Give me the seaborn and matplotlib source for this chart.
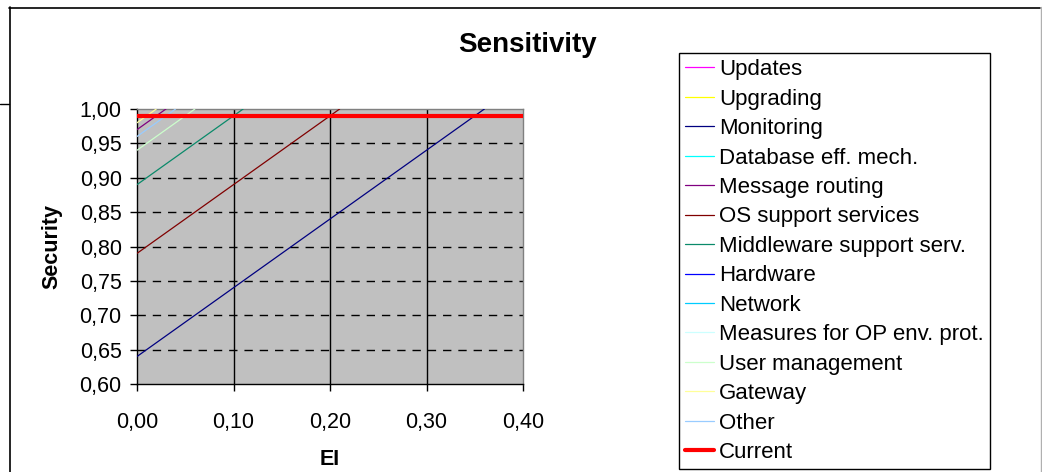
import matplotlib
matplotlib.use("Agg")
import matplotlib.pyplot as plt
from matplotlib.lines import Line2D
from matplotlib.ticker import FuncFormatter
import seaborn as sns
import pandas as pd

# Sensitivity lines: security at EI = 0 and the EI where each line reaches 1,00
series_names = [
    "Updates", "Upgrading", "Monitoring", "Database eff. mech.",
    "Message routing", "OS support services", "Middleware support serv.",
    "Hardware", "Network", "Measures for OP env. prot.", "User management",
    "Gateway", "Other", "Current",
]
series_colors = [
    "#FF00FF", "#FFFF00", "#000080", "#00FFFF",
    "#800080", "#800000", "#0A8A6A",
    "#0000FF", "#00CCFF", "#CCFFFF", "#CCFFCC",
    "#FFFF99", "#99CCFF", "#FF0000",
]
monitoring_ei = [0.00, 0.36]
monitoring_sec = [0.64, 1.00]
os_support_ei = [0.00, 0.21]
os_support_sec = [0.79, 1.00]
middleware_ei = [0.00, 0.11]
middleware_sec = [0.89, 1.00]
user_mgmt_ei = [0.00, 0.06]
user_mgmt_sec = [0.94, 1.00]
other_ei = [0.00, 0.04]
other_sec = [0.96, 1.00]
msg_routing_ei = [0.00, 0.03]
msg_routing_sec = [0.97, 1.00]
gateway_ei = [0.00, 0.02]
gateway_sec = [0.98, 1.00]
current_ei = [0.00, 0.40]
current_sec = [0.99, 0.99]

line_data = {
    "Monitoring": (monitoring_ei, monitoring_sec),
    "OS support services": (os_support_ei, os_support_sec),
    "Middleware support serv.": (middleware_ei, middleware_sec),
    "User management": (user_mgmt_ei, user_mgmt_sec),
    "Other": (other_ei, other_sec),
    "Message routing": (msg_routing_ei, msg_routing_sec),
    "Gateway": (gateway_ei, gateway_sec),
    "Current": (current_ei, current_sec),
}

x_ticks = [0.00, 0.10, 0.20, 0.30, 0.40]
y_ticks = [0.60, 0.65, 0.70, 0.75, 0.80, 0.85, 0.90, 0.95, 1.00]

sns.set_theme(style="white")
plt.rcParams["font.family"] = ["Liberation Sans", "DejaVu Sans"]
plt.rcParams["text.color"] = "black"
plt.rcParams["axes.labelcolor"] = "black"

W, H = 1042, 472
fig = plt.figure(figsize=(W / 100, H / 100), dpi=100)
fig.patch.set_facecolor("white")


def fx(px):
    return px / W


def fy(py):
    return 1 - py / H


ax = fig.add_axes([fx(137), fy(384), fx(523) - fx(137), fy(109) - fy(384)])
ax.set_facecolor("#C0C0C0")

# grid: solid verticals, dashed horizontals
for xv in x_ticks[1:-1]:
    ax.axvline(xv, color="black", lw=1.0, zorder=1)
for yv in y_ticks[1:-1]:
    ax.axhline(yv, color="black", lw=1.0, ls=(0, (6, 5)), zorder=1)

handles = []
for name, color in zip(series_names, series_colors):
    lw = 3.0 if name == "Current" else 0.9
    if name in line_data:
        xs, ys = line_data[name]
        df = pd.DataFrame({"EI": xs, "Security": ys})
        sns.lineplot(data=df, x="EI", y="Security", color=color, lw=lw,
                     ax=ax, zorder=3 if name != "Current" else 4,
                     legend=False)
    handles.append(Line2D([], [], color=color, lw=lw, label=name))

ax.set_xlim(0, 0.40)
ax.set_ylim(0.60, 1.00)
ax.set_xticks(x_ticks)
ax.set_yticks(y_ticks)
comma = FuncFormatter(lambda v, p: f"{v:.2f}".replace(".", ","))
ax.xaxis.set_major_formatter(comma)
ax.yaxis.set_major_formatter(comma)
ax.tick_params(axis="both", which="major", direction="out", length=5,
               width=1, color="black", labelsize=15.5, labelcolor="black",
               bottom=True, left=True)
ax.tick_params(axis="x", pad=15)
ax.tick_params(axis="y", pad=6)

for side in ["left", "bottom"]:
    ax.spines[side].set_color("black")
    ax.spines[side].set_linewidth(1.0)
for side in ["top", "right"]:
    ax.spines[side].set_color("#808080")
    ax.spines[side].set_linewidth(1.0)

ax.set_xlabel("EI", fontsize=15.5, fontweight="bold", labelpad=12)
ax.set_ylabel("Security", fontsize=15.5, fontweight="bold", labelpad=12)

fig.text(fx(527), fy(45), "Sensitivity", fontsize=20, fontweight="bold",
         ha="center", va="center", color="black")

leg = fig.legend(handles=handles, loc="upper left",
                 bbox_to_anchor=(fx(679), fy(53)), fontsize=16,
                 frameon=True, fancybox=False, edgecolor="black",
                 handlelength=1.3, handletextpad=0.22, labelspacing=0.38,
                 borderpad=0.28, borderaxespad=0, framealpha=1)
leg.get_frame().set_linewidth(1.0)

# chart area frame
fig.add_artist(Line2D([fx(9.5), fx(9.5)], [fy(7), fy(472)], color="black",
                      lw=1.2, transform=fig.transFigure))
fig.add_artist(Line2D([fx(9), fx(1040)], [fy(7.5), fy(7.5)], color="black",
                      lw=1.2, transform=fig.transFigure))
fig.add_artist(Line2D([fx(1040.5), fx(1040.5)], [fy(7), fy(472)],
                      color="#B0B0B0", lw=1.0, transform=fig.transFigure))
fig.add_artist(Line2D([fx(0), fx(9)], [fy(103.5), fy(103.5)], color="black",
                      lw=1.0, transform=fig.transFigure))

fig.savefig("out.png", dpi=100)
